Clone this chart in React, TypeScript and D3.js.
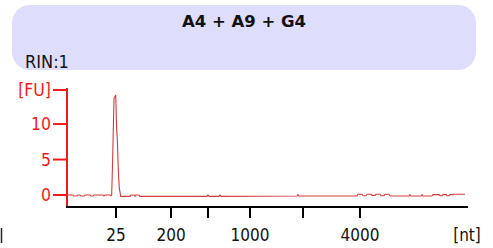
import React, { useEffect, useRef } from 'react';
import * as d3 from 'd3';

// Migration time (s) of the trace points and fluorescence (FU)
const traceTime = [
  19.0, 19.75, 19.87, 20.25, 20.37, 20.62, 20.75, 21.12, 21.24, 21.87, 21.99, 22.24, 22.37,
  23.49, 23.61, 23.74, 24.36, 24.49, 24.57, 24.67, 24.86, 25.07, 25.2, 25.27, 25.4, 25.52,
  25.7, 26.86, 26.98, 27.35, 27.48, 27.6, 27.98, 28.1, 36.46, 36.58, 36.71, 37.95, 38.08,
  38.2, 47.68, 47.8, 47.93, 55.16, 55.28, 55.78, 55.91, 56.28, 56.41, 56.91, 57.03, 57.41,
  57.53, 58.03, 58.16, 58.53, 58.65, 59.15, 59.28, 61.64, 61.77, 61.89, 63.14, 63.26, 63.39,
  64.51, 64.64, 65.39, 65.51, 65.76, 65.89, 66.26, 66.38, 66.63, 66.76, 67.13, 67.26, 68.63,
];
const traceFU = [
  0, 0, -0.15, -0.15, 0, 0, -0.15, -0.15, 0, 0, -0.15, -0.15, 0,
  0, -0.15, 0, 0, -0.1, 0, 4.1, 13.6, 14.1, 9, 8, 3.5, 1,
  -0.2, -0.2, 0, 0, -0.2, 0, 0, -0.2, -0.2, 0, -0.2, -0.2, 0,
  -0.2, -0.15, 0.05, -0.15, -0.15, 0.1, 0.1, -0.1, -0.1, 0.1, 0.1, -0.05, -0.05,
  0.1, 0.1, -0.1, -0.1, 0.1, 0.1, -0.15, -0.15, 0.05, -0.15, -0.15, 0.05, -0.15,
  -0.15, 0.05, 0.05, -0.1, -0.1, 0.05, 0.05, -0.1, -0.1, 0.05, 0.05, 0.1, 0.1,
];

// Ladder positions (s) and their size labels
const ladderTime = [25.11, 31.97, 36.58, 41.82, 48.43, 55.53];
const ladderLabels = ['25', '200', '', '1000', '', '4000'];

// Y ticks
const fuTicks = [0, 5, 10];
const fuMax = 14.8;

const title = 'A4 + A9 + G4';
const rin = 'RIN:1';

const App = () => {
  const ref = useRef<SVGSVGElement>(null);

  useEffect(() => {
    const svg = d3.select(ref.current);
    svg.selectAll('*').remove();

    const font = "'DejaVu Sans', Verdana, sans-serif";
    const narrow = "'DejaVu Sans Condensed', 'DejaVu Sans', sans-serif";
    const red = '#ee1c1c';

    // Header box
    svg.append('rect')
      .attr('x', 12).attr('y', 5).attr('width', 464).attr('height', 65)
      .attr('rx', 18).attr('fill', '#dedefc');
    svg.append('text')
      .attr('x', 244).attr('y', 27).attr('text-anchor', 'middle')
      .attr('font-family', font).attr('font-weight', 'bold').attr('font-size', 16.5)
      .attr('fill', '#111').text(title);
    svg.append('text')
      .attr('x', 25).attr('y', 68)
      .attr('font-family', narrow).attr('font-stretch', 'condensed').attr('font-size', 18)
      .attr('fill', '#111').text(rin);

    // Scales
    const x = d3.scaleLinear().domain([19, 69]).range([67, 468]);
    const y = d3.scaleLinear().domain([0, fuMax]).range([195, 90]);

    // Trace
    const line = d3.line<number>()
      .x((d, i) => x(traceTime[i]))
      .y((d) => y(d));
    svg.append('path')
      .attr('d', line(traceFU))
      .attr('fill', 'none')
      .attr('stroke', '#d23c3c')
      .attr('stroke-width', 1.1);

    // Y axis (red)
    const yAxis = svg.append('g').attr('transform', 'translate(67,0)');
    yAxis.append('line')
      .attr('x1', 0).attr('x2', 0).attr('y1', y(fuMax) - 2).attr('y2', 207)
      .attr('stroke', red).attr('stroke-width', 2);
    const yTickVals = [...fuTicks, fuMax];
    yAxis.selectAll('.yt')
      .data(yTickVals)
      .enter()
      .append('line')
      .attr('x1', -14).attr('x2', 0)
      .attr('y1', (d) => y(d)).attr('y2', (d) => y(d))
      .attr('stroke', red).attr('stroke-width', 2);
    yAxis.selectAll('.yl')
      .data(yTickVals)
      .enter()
      .append('text')
      .attr('x', -16)
      .attr('y', (d) => y(d))
      .attr('dy', '0.36em')
      .attr('text-anchor', 'end')
      .attr('font-family', narrow).attr('font-stretch', 'condensed').attr('font-size', 17.5)
      .attr('fill', red)
      .text((d) => (d === fuMax ? '[FU]' : String(d)));

    // X axis (black)
    const xAxis = svg.append('g').attr('transform', 'translate(0,207)');
    xAxis.append('line')
      .attr('x1', 66).attr('x2', 468).attr('y1', 0).attr('y2', 0)
      .attr('stroke', '#000').attr('stroke-width', 2);
    xAxis.selectAll('.xt')
      .data(ladderTime)
      .enter()
      .append('line')
      .attr('x1', (d) => x(d)).attr('x2', (d) => x(d))
      .attr('y1', 0).attr('y2', 11)
      .attr('stroke', '#000').attr('stroke-width', 2);
    xAxis.selectAll('.xl')
      .data(ladderTime)
      .enter()
      .append('text')
      .attr('x', (d) => x(d))
      .attr('y', 34)
      .attr('text-anchor', 'middle')
      .attr('font-family', narrow).attr('font-stretch', 'condensed').attr('font-size', 17)
      .attr('fill', '#111')
      .text((d, i) => ladderLabels[i]);
    xAxis.append('text')
      .attr('x', 467).attr('y', 34).attr('text-anchor', 'middle')
      .attr('font-family', narrow).attr('font-stretch', 'condensed').attr('font-size', 17)
      .attr('fill', '#111').text('[nt]');

    // Clipped marker at the far left
    svg.append('line')
      .attr('x1', 1.5).attr('x2', 1.5).attr('y1', 228).attr('y2', 243)
      .attr('stroke', '#222').attr('stroke-width', 1.5);
  }, []);

  return (
    <svg
      ref={ref}
      width={493}
      height={248}
      style={{ position: 'absolute', left: 0, top: 0, background: '#fff' }}
    />
  );
};

export default App;
